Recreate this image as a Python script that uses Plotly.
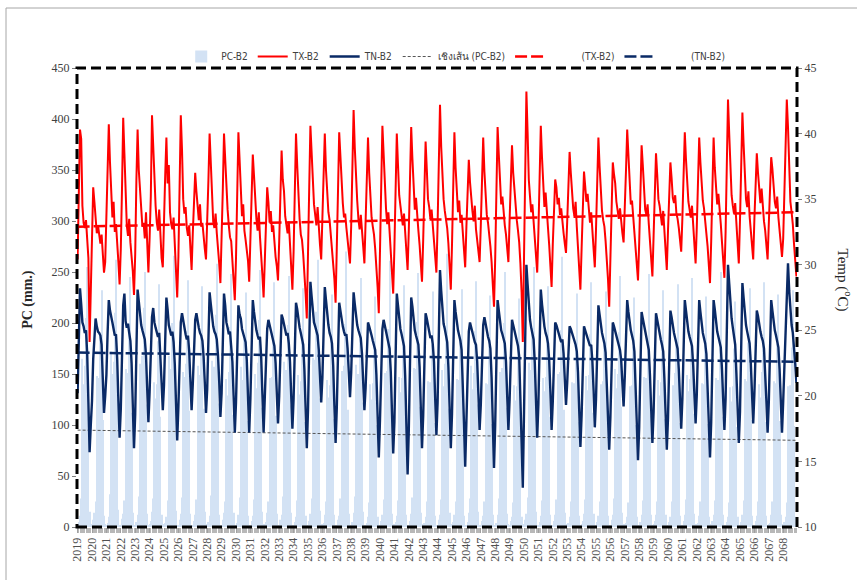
import plotly.graph_objects as go

YEARS = list(range(2019, 2069))

PC_B2 = [
    [2, 5, 11, 28, 165, 140, 158, 205, 255, 118, 15, 2],
    [3, 7, 14, 25, 148, 128, 146, 186, 232, 105, 11, 3],
    [1, 4, 10, 32, 172, 150, 162, 210, 262, 125, 17, 1],
    [2, 8, 13, 26, 155, 132, 151, 195, 245, 112, 14, 2],
    [2, 5, 12, 30, 160, 145, 168, 215, 250, 120, 13, 2],
    [3, 6, 15, 28, 142, 126, 140, 182, 238, 108, 12, 3],
    [1, 4, 10, 26, 168, 138, 155, 200, 266, 130, 16, 1],
    [2, 7, 13, 29, 152, 147, 160, 192, 242, 114, 13, 2],
    [2, 6, 12, 27, 158, 133, 149, 188, 236, 116, 15, 3],
    [3, 5, 11, 31, 163, 142, 157, 208, 258, 121, 12, 1],
    [1, 7, 14, 25, 145, 129, 152, 196, 248, 110, 14, 2],
    [2, 4, 12, 29, 157, 139, 144, 184, 230, 104, 11, 2],
    [2, 6, 11, 27, 150, 136, 161, 203, 252, 117, 15, 3],
    [3, 5, 14, 25, 146, 131, 147, 190, 240, 109, 13, 1],
    [1, 7, 12, 30, 162, 144, 154, 198, 246, 119, 14, 2],
    [2, 5, 10, 26, 149, 130, 143, 181, 234, 103, 11, 2],
    [2, 6, 13, 28, 166, 146, 164, 211, 262, 126, 16, 3],
    [3, 4, 12, 25, 144, 127, 139, 183, 228, 106, 12, 1],
    [1, 7, 11, 28, 153, 141, 158, 199, 270, 115, 13, 2],
    [2, 5, 14, 30, 159, 134, 150, 193, 244, 122, 15, 2],
    [1, 4, 10, 24, 140, 125, 141, 180, 226, 100, 10, 1],
    [2, 6, 12, 27, 151, 137, 153, 194, 261, 113, 13, 2],
    [3, 5, 11, 26, 147, 132, 146, 187, 237, 107, 12, 1],
    [1, 6, 13, 29, 156, 140, 155, 201, 249, 118, 14, 3],
    [2, 4, 10, 25, 143, 128, 142, 179, 231, 102, 11, 2],
    [2, 7, 12, 27, 154, 138, 160, 197, 268, 116, 14, 2],
    [3, 5, 12, 25, 145, 130, 144, 185, 233, 105, 11, 1],
    [1, 5, 14, 28, 158, 135, 151, 192, 241, 120, 15, 2],
    [2, 6, 11, 25, 141, 127, 140, 178, 227, 101, 12, 2],
    [2, 4, 12, 28, 152, 142, 156, 200, 250, 117, 13, 3],
    [1, 6, 10, 24, 139, 124, 138, 176, 224, 99, 10, 1],
    [3, 7, 13, 29, 161, 139, 154, 196, 255, 121, 15, 2],
    [2, 5, 11, 26, 146, 133, 147, 186, 236, 108, 12, 2],
    [2, 6, 12, 27, 150, 137, 152, 193, 265, 115, 14, 3],
    [1, 4, 10, 25, 142, 126, 141, 181, 229, 103, 11, 1],
    [3, 6, 13, 27, 148, 134, 149, 189, 240, 112, 13, 2],
    [2, 5, 11, 25, 140, 128, 143, 180, 231, 104, 11, 2],
    [2, 7, 12, 28, 155, 136, 150, 191, 246, 118, 14, 3],
    [1, 4, 10, 24, 138, 125, 139, 177, 225, 100, 10, 1],
    [2, 5, 12, 26, 147, 132, 146, 185, 248, 109, 12, 2],
    [3, 6, 12, 25, 144, 129, 142, 182, 232, 106, 12, 2],
    [1, 5, 10, 25, 139, 127, 151, 184, 238, 102, 11, 1],
    [2, 6, 12, 27, 149, 133, 145, 187, 244, 111, 13, 3],
    [2, 4, 11, 25, 141, 126, 140, 178, 226, 101, 10, 2],
    [3, 6, 12, 26, 146, 131, 144, 183, 250, 108, 12, 2],
    [1, 5, 10, 24, 137, 123, 138, 175, 221, 98, 10, 1],
    [2, 5, 12, 26, 145, 130, 143, 181, 234, 105, 11, 2],
    [2, 6, 11, 25, 140, 127, 152, 179, 240, 103, 11, 2],
    [3, 4, 12, 25, 143, 129, 141, 180, 228, 104, 12, 3],
    [1, 5, 10, 24, 138, 124, 139, 176, 232, 99, 10, 1],
]

TX_B2 = [
    [30.4, 36.0, 40.3, 39.6, 34.5, 33.2, 32.8, 33.4, 31.8, 30.5, 24.1, 27.5],
    [31.5, 35.9, 34.8, 33.6, 32.4, 33.0, 32.1, 31.6, 32.3, 30.8, 29.4, 30.2],
    [33.5, 37.0, 40.7, 37.8, 35.0, 33.6, 34.8, 32.5, 33.1, 31.0, 30.2, 28.5],
    [31.2, 35.8, 41.2, 38.5, 34.6, 33.0, 32.2, 33.5, 31.7, 30.8, 29.5, 27.7],
    [30.8, 36.5, 40.3, 37.2, 35.4, 33.8, 32.9, 33.2, 32.0, 34.0, 31.4, 29.4],
    [32.0, 35.2, 41.4, 39.0, 35.8, 34.5, 33.2, 32.6, 34.2, 31.9, 30.5, 29.8],
    [32.5, 36.8, 39.7, 36.2, 37.6, 34.0, 33.1, 32.7, 33.6, 31.2, 29.6, 27.5],
    [30.6, 35.5, 41.4, 38.8, 35.0, 33.9, 34.4, 32.8, 32.2, 33.0, 31.5, 29.6],
    [32.4, 34.8, 37.0, 35.6, 34.1, 33.4, 34.6, 32.9, 33.2, 31.8, 31.2, 30.4],
    [33.0, 36.4, 40.0, 37.5, 34.8, 33.3, 32.8, 33.9, 32.4, 31.5, 30.1, 28.6],
    [31.4, 35.7, 40.0, 37.9, 35.2, 34.2, 33.0, 32.1, 31.8, 30.4, 29.0, 27.3],
    [30.5, 36.1, 40.1, 38.0, 35.5, 33.7, 34.6, 32.6, 31.9, 31.0, 30.3, 28.7],
    [31.6, 35.0, 38.4, 36.8, 34.9, 33.5, 32.6, 34.0, 32.1, 30.9, 29.2, 27.5],
    [30.9, 34.2, 35.9, 34.8, 33.2, 34.1, 32.5, 33.0, 31.6, 30.6, 29.9, 28.8],
    [31.8, 35.4, 38.7, 36.5, 35.6, 33.7, 33.0, 32.4, 33.3, 31.3, 29.8, 28.1],
    [31.0, 36.3, 40.0, 37.6, 34.7, 33.5, 32.3, 31.9, 30.8, 29.5, 27.8, 25.9],
    [29.8, 35.8, 40.6, 38.4, 36.2, 34.6, 33.8, 33.0, 34.4, 32.6, 31.5, 30.4],
    [33.2, 36.9, 40.0, 37.2, 35.1, 34.0, 33.4, 32.2, 31.5, 30.3, 28.9, 27.1],
    [30.4, 35.6, 40.1, 38.3, 35.9, 34.7, 33.6, 33.9, 32.8, 32.0, 31.3, 30.1],
    [33.0, 37.4, 41.8, 38.9, 36.4, 34.9, 33.5, 32.7, 33.8, 32.2, 31.4, 30.1],
    [32.8, 36.0, 39.7, 37.0, 35.0, 33.6, 32.9, 32.3, 31.2, 29.9, 28.3, 26.3],
    [30.0, 35.9, 40.6, 38.2, 35.6, 34.3, 33.1, 34.0, 32.5, 31.1, 29.6, 27.8],
    [31.3, 36.2, 40.0, 37.6, 35.3, 34.5, 33.7, 33.0, 33.9, 32.1, 30.9, 29.6],
    [32.6, 36.7, 40.5, 38.1, 35.9, 34.2, 35.1, 33.3, 32.6, 31.5, 30.2, 28.7],
    [31.9, 35.8, 39.4, 37.3, 35.0, 34.4, 33.5, 34.2, 32.9, 31.8, 30.6, 29.4],
    [33.1, 38.0, 42.2, 39.0, 36.3, 35.0, 34.1, 33.4, 32.8, 31.6, 29.9, 28.1],
    [31.5, 36.1, 40.1, 37.4, 35.2, 34.0, 34.9, 33.2, 33.8, 32.4, 31.2, 29.8],
    [32.9, 35.7, 38.0, 36.3, 34.9, 34.1, 33.3, 34.5, 32.7, 31.9, 31.0, 30.2],
    [33.0, 36.4, 39.7, 37.1, 35.3, 33.8, 33.2, 32.5, 31.4, 30.2, 28.5, 26.8],
    [30.5, 36.0, 40.5, 38.4, 36.0, 34.6, 35.2, 33.7, 33.0, 32.3, 31.3, 30.2],
    [33.4, 36.6, 39.1, 37.0, 35.6, 34.3, 33.4, 32.6, 31.7, 30.1, 27.9, 24.1],
    [30.0, 36.8, 43.2, 40.1, 36.5, 35.2, 34.0, 34.6, 33.2, 32.0, 30.8, 29.4],
    [32.5, 36.9, 40.6, 38.2, 35.8, 34.4, 35.5, 33.6, 32.8, 31.5, 29.9, 28.3],
    [31.6, 34.5, 36.5, 35.9, 34.6, 35.1, 33.8, 34.3, 33.0, 32.4, 31.6, 30.9],
    [33.3, 35.9, 38.6, 37.0, 35.2, 34.3, 33.7, 34.8, 32.9, 31.2, 29.5, 28.1],
    [31.2, 34.9, 37.1, 36.0, 34.8, 35.4, 33.9, 33.2, 34.0, 32.6, 31.0, 29.8],
    [32.7, 36.3, 39.7, 37.5, 35.5, 34.1, 33.4, 32.9, 31.8, 30.6, 28.9, 26.8],
    [30.2, 35.3, 37.8, 36.9, 36.2, 34.8, 34.0, 33.5, 34.3, 33.0, 32.4, 31.7],
    [34.0, 37.2, 40.3, 38.1, 35.8, 34.6, 34.9, 33.7, 32.8, 31.5, 30.2, 28.8],
    [31.7, 35.8, 39.1, 37.6, 35.3, 34.2, 33.8, 34.6, 33.1, 31.9, 30.4, 29.1],
    [32.2, 35.4, 38.5, 36.9, 35.0, 34.5, 33.6, 33.0, 34.1, 32.3, 30.9, 29.6],
    [32.6, 35.1, 37.8, 36.6, 35.1, 34.7, 35.3, 33.9, 33.5, 32.8, 31.8, 31.0],
    [33.6, 37.0, 40.1, 38.0, 35.9, 34.8, 34.2, 33.6, 34.5, 32.9, 31.4, 30.1],
    [32.9, 36.5, 39.7, 37.8, 36.1, 34.9, 34.3, 33.5, 32.6, 31.4, 30.0, 28.6],
    [31.8, 36.2, 39.7, 37.4, 35.7, 34.6, 35.4, 33.8, 33.1, 31.7, 30.3, 29.0],
    [32.5, 38.3, 42.6, 40.0, 36.8, 35.3, 34.5, 33.9, 34.7, 32.8, 31.4, 30.1],
    [33.4, 37.9, 41.6, 39.2, 36.5, 35.0, 34.4, 35.6, 33.7, 32.5, 31.4, 30.4],
    [33.5, 36.2, 38.5, 37.0, 35.4, 34.7, 35.8, 34.0, 33.3, 32.6, 31.5, 30.4],
    [33.1, 35.6, 38.2, 37.3, 35.9, 34.8, 34.3, 35.2, 33.6, 32.7, 31.8, 30.6],
    [32.0, 35.0, 39.0, 42.6, 40.5, 37.0, 34.8, 34.0, 33.1, 31.6, 30.2, 29.1],
]

TN_B2 = [
    [20.2, 24.5, 28.2, 27.0, 25.6, 25.3, 24.8, 25.0, 23.2, 19.5, 15.7, 17.8],
    [19.6, 22.8, 24.9, 25.9, 25.3, 24.9, 24.8, 24.6, 23.9, 21.8, 18.7, 20.0],
    [21.6, 24.8, 27.3, 26.5, 25.9, 25.6, 25.1, 24.6, 24.7, 22.8, 19.6, 16.8],
    [19.0, 23.4, 26.9, 27.8, 25.7, 25.2, 25.5, 24.8, 24.2, 22.5, 19.3, 16.0],
    [18.6, 23.0, 28.1, 27.2, 26.1, 25.4, 25.0, 24.6, 24.3, 23.1, 20.6, 18.0],
    [20.3, 23.9, 26.0, 26.7, 25.6, 25.2, 24.9, 24.5, 24.8, 23.3, 21.0, 18.9],
    [20.8, 24.2, 27.5, 26.6, 25.4, 25.0, 24.6, 24.9, 24.1, 22.4, 19.4, 16.6],
    [19.2, 23.1, 25.6, 26.3, 25.7, 25.1, 24.7, 24.3, 24.6, 23.4, 21.2, 18.9],
    [20.9, 23.6, 25.8, 26.3, 25.5, 25.2, 24.8, 24.6, 24.2, 23.0, 21.0, 18.7],
    [20.5, 24.3, 27.9, 27.0, 25.8, 25.3, 24.9, 24.7, 24.3, 23.1, 21.1, 18.4],
    [20.2, 23.8, 27.8, 26.9, 25.6, 25.2, 24.7, 24.9, 24.0, 22.6, 20.0, 17.2],
    [19.5, 23.5, 26.9, 26.2, 25.9, 25.1, 24.8, 24.4, 24.1, 22.7, 19.9, 17.2],
    [19.8, 23.6, 27.3, 26.4, 25.5, 25.0, 24.6, 24.3, 24.5, 22.9, 20.1, 17.2],
    [19.9, 22.7, 25.1, 25.8, 25.4, 24.9, 24.7, 24.3, 23.8, 22.5, 20.3, 17.9],
    [20.0, 23.3, 26.2, 25.9, 25.5, 25.1, 24.6, 24.8, 24.0, 22.6, 20.1, 17.5],
    [19.8, 23.6, 27.1, 26.6, 25.7, 25.2, 24.8, 24.4, 23.9, 22.0, 19.0, 16.0],
    [18.9, 24.0, 28.7, 27.6, 26.2, 25.6, 25.3, 24.9, 24.6, 23.5, 21.6, 19.5],
    [21.4, 24.9, 28.3, 27.3, 26.0, 25.4, 24.8, 24.5, 24.0, 22.3, 19.2, 16.4],
    [19.1, 23.5, 27.1, 26.5, 25.8, 25.3, 24.9, 24.6, 24.7, 23.6, 21.8, 19.9],
    [21.8, 24.6, 27.9, 27.0, 25.9, 25.4, 25.0, 24.7, 24.4, 23.2, 21.2, 18.9],
    [20.6, 23.4, 25.6, 25.3, 25.0, 24.6, 24.2, 23.9, 23.5, 21.6, 18.4, 15.3],
    [18.2, 22.3, 25.1, 25.8, 25.3, 24.9, 24.5, 24.1, 23.6, 21.8, 18.7, 15.6],
    [18.0, 22.6, 27.8, 26.9, 25.6, 25.1, 24.7, 24.3, 23.8, 21.5, 17.8, 14.0],
    [17.4, 22.0, 27.5, 26.8, 25.5, 25.0, 24.6, 24.2, 23.9, 22.2, 19.3, 16.0],
    [18.5, 22.4, 26.3, 25.9, 25.3, 24.8, 24.4, 24.6, 23.9, 22.6, 20.0, 17.0],
    [19.5, 24.2, 29.6, 28.0, 26.3, 25.5, 25.1, 24.7, 24.1, 22.2, 19.2, 16.0],
    [18.6, 23.0, 27.3, 26.4, 25.5, 25.0, 24.6, 24.2, 23.5, 21.3, 17.9, 14.6],
    [17.6, 21.8, 24.9, 25.6, 25.2, 24.8, 24.5, 24.1, 23.9, 22.6, 20.1, 17.4],
    [19.3, 22.8, 25.4, 26.0, 25.4, 24.9, 24.5, 24.2, 23.6, 21.4, 17.6, 14.5],
    [17.8, 22.5, 27.3, 26.5, 25.6, 25.0, 24.7, 24.3, 24.0, 22.6, 20.2, 17.4],
    [19.7, 23.1, 25.8, 25.4, 25.0, 24.6, 24.2, 23.8, 23.0, 20.4, 16.5, 13.0],
    [18.0, 25.0, 30.0, 28.5, 26.8, 25.8, 25.2, 24.8, 24.3, 22.5, 19.7, 16.8],
    [19.4, 23.8, 28.1, 27.0, 25.9, 25.3, 24.8, 24.5, 24.0, 22.7, 20.3, 17.4],
    [19.6, 22.9, 25.6, 25.4, 25.0, 24.7, 24.4, 24.1, 24.3, 23.2, 21.5, 19.3],
    [21.0, 23.4, 25.3, 25.1, 24.8, 24.5, 24.2, 23.9, 23.4, 21.8, 18.9, 16.1],
    [18.5, 22.1, 25.3, 25.0, 24.7, 24.4, 24.1, 23.8, 23.9, 22.6, 20.4, 17.6],
    [19.7, 23.5, 26.9, 26.2, 25.3, 24.8, 24.4, 24.0, 23.3, 21.2, 18.3, 15.9],
    [18.4, 22.9, 25.6, 25.3, 24.9, 24.5, 24.1, 23.8, 23.5, 22.7, 21.0, 19.2],
    [21.5, 24.6, 27.3, 26.4, 25.5, 25.0, 24.6, 24.2, 23.4, 21.0, 17.6, 15.1],
    [17.6, 22.0, 26.4, 25.9, 25.4, 24.9, 24.5, 24.1, 23.5, 21.5, 18.8, 16.4],
    [18.8, 22.6, 26.3, 25.8, 25.2, 24.7, 24.3, 23.9, 23.4, 21.3, 18.4, 15.9],
    [18.3, 22.4, 26.5, 26.0, 25.3, 24.8, 24.4, 24.0, 23.6, 22.0, 19.7, 17.5],
    [19.8, 23.5, 27.3, 26.5, 25.5, 24.9, 24.5, 24.1, 23.8, 22.3, 20.2, 17.9],
    [20.1, 23.7, 27.3, 26.4, 25.4, 24.8, 24.4, 24.0, 23.2, 21.0, 18.0, 15.3],
    [18.0, 23.0, 27.3, 26.6, 25.5, 24.9, 24.5, 24.1, 23.7, 22.0, 19.6, 17.4],
    [19.8, 24.9, 30.0, 28.6, 26.9, 25.9, 25.2, 24.7, 23.9, 21.7, 18.8, 16.4],
    [18.8, 23.8, 28.6, 27.5, 26.1, 25.4, 24.9, 24.5, 24.0, 22.5, 20.2, 17.9],
    [20.2, 23.6, 26.5, 26.1, 25.4, 24.9, 24.5, 24.2, 23.6, 21.9, 19.6, 17.2],
    [19.5, 23.4, 27.3, 26.5, 25.5, 25.0, 24.6, 24.2, 23.7, 22.0, 19.7, 17.2],
    [19.6, 22.5, 26.0, 29.0, 30.1, 28.0, 26.2, 25.4, 24.8, 23.8, 22.5, 21.0],
]

# Linear trend end points (start, end)
TREND_PC = [95, 85]
TREND_TX = [32.9, 34.0]
TREND_TN = [23.3, 22.6]

pc = [v for row in PC_B2 for v in row]
tx = [v for row in TX_B2 for v in row]
tn = [v for row in TN_B2 for v in row]
n = len(pc)
x = list(range(n))
x_ends = [0, n - 1]

SERIF = "Liberation Serif, Times New Roman, serif"
NARROW = "Liberation Sans Narrow, DejaVu Sans Condensed, Arial Narrow, sans-serif"

fig = go.Figure()
fig.add_trace(go.Bar(x=x, y=pc, name="PC-B2", marker=dict(color="#d3e2f4", line=dict(width=0)),
                     yaxis="y"))
fig.add_trace(go.Scatter(x=x, y=tx, name="TX-B2", mode="lines",
                         line=dict(color="#ff0000", width=2), yaxis="y2"))
fig.add_trace(go.Scatter(x=x, y=tn, name="TN-B2", mode="lines",
                         line=dict(color="#0a2a66", width=2.4), yaxis="y2"))
fig.add_trace(go.Scatter(x=x_ends, y=TREND_PC, name="เชิงเส้น (PC-B2)", mode="lines",
                         line=dict(color="#555555", width=1, dash="3px,2px"), yaxis="y"))
fig.add_trace(go.Scatter(x=x_ends, y=TREND_TX, name="\u00a0" * 11 + "(TX-B2)", mode="lines",
                         line=dict(color="#ff0000", width=2.5, dash="12px,4px"), yaxis="y2"))
fig.add_trace(go.Scatter(x=x_ends, y=TREND_TN, name="\u00a0" * 11 + "(TN-B2)", mode="lines",
                         line=dict(color="#0a2a66", width=2.5, dash="12px,4px"), yaxis="y2"))

fig.update_layout(
    width=857, height=580,
    margin=dict(l=77, r=60, t=68, b=53, autoexpand=False),
    paper_bgcolor="white", plot_bgcolor="white",
    bargap=0.3,
    showlegend=True,
    legend=dict(orientation="h", x=0.526, xanchor="center", y=1.025, yanchor="middle",
                font=dict(family=NARROW, size=10, color="#404040"),
                bgcolor="rgba(0,0,0,0)", itemwidth=30, tracegroupgap=0),
    xaxis=dict(range=[-0.5, n - 0.5], tickmode="array",
               tickvals=[12 * i for i in range(len(YEARS))],
               ticktext=[str(y) for y in YEARS], tickangle=-90,
               tickfont=dict(family=SERIF, size=12, color="#505050"),
               ticks="outside", ticklen=5, tickcolor="#a0a0a0",
               minor=dict(tickmode="linear", tick0=0, dtick=1, ticks="outside",
                          ticklen=5, tickcolor="#b8b8b8", showgrid=False),
               showgrid=False, zeroline=False, showline=False),
    yaxis=dict(range=[0, 450], dtick=50, tickfont=dict(family=SERIF, size=12, color="#404040"),
               ticks="outside", ticklen=4, tickcolor="#808080",
               showgrid=False, zeroline=False, showline=False),
    yaxis2=dict(range=[10, 45], dtick=5, overlaying="y", side="right",
                tickfont=dict(family=SERIF, size=12, color="#404040"),
                ticks="outside", ticklen=4, tickcolor="#808080",
                showgrid=False, zeroline=False, showline=False),
    shapes=[
        dict(type="rect", xref="paper", yref="paper", x0=0, x1=1, y0=0, y1=1,
             line=dict(color="black", width=3, dash="10px,5px"), layer="above"),
        dict(type="rect", xref="paper", yref="paper", x0=-0.0986, x1=1.2, y0=-0.3, y1=1.1307,
             line=dict(color="#a6a6a6", width=1), layer="below"),
    ],
    annotations=[
        dict(text="<b>PC (mm.)</b>", xref="paper", yref="paper", x=-0.068, y=0.495,
             textangle=-90, showarrow=False, xanchor="center", yanchor="middle",
             font=dict(family=SERIF, size=14, color="#262626")),
        dict(text="Temp (<sup>o</sup>C)", xref="paper", yref="paper", x=1.066, y=0.538,
             textangle=90, showarrow=False, xanchor="center", yanchor="middle",
             font=dict(family=SERIF, size=15, color="#262626")),
    ],
)

fig.write_html("out.html")
